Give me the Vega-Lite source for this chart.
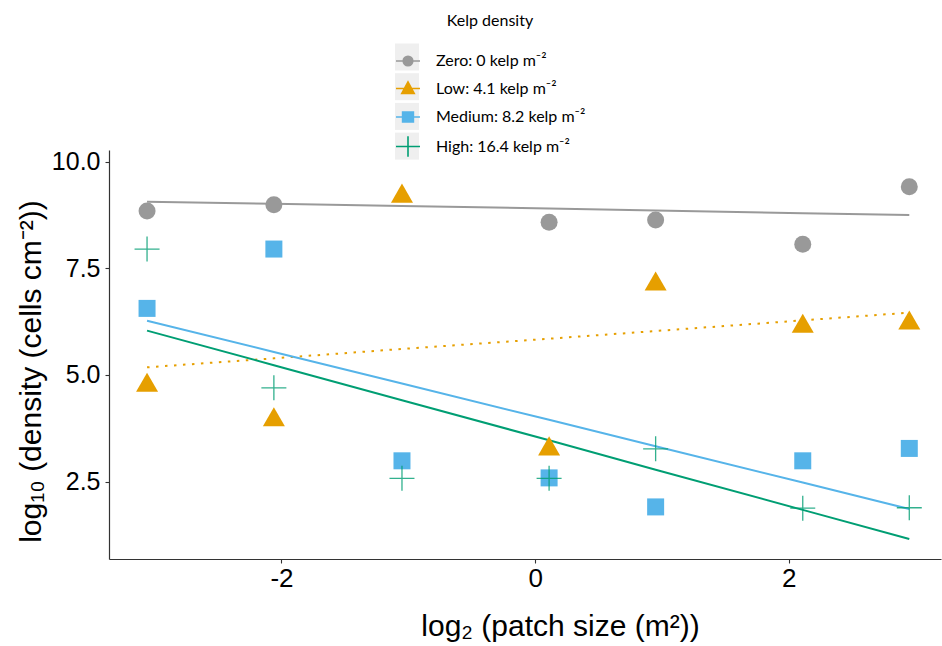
{
  "$schema": "https://vega.github.io/schema/vega-lite/v6.json",
  "width": 832,
  "height": 409,
  "autosize": {"type": "none"},
  "padding": {"left": 109, "top": 150, "right": 1, "bottom": 87},
  "background": "white",
  "config": {"view": {"stroke": null}, "font": "Liberation Sans"},
  "datasets": {
    "pts": [
      {"x": -3.06, "y": 8.84, "group": "Zero: 0 kelp m⁻²"},
      {"x": -2.06, "y": 8.99, "group": "Zero: 0 kelp m⁻²"},
      {"x": 0.11, "y": 8.58, "group": "Zero: 0 kelp m⁻²"},
      {"x": 0.95, "y": 8.63, "group": "Zero: 0 kelp m⁻²"},
      {"x": 2.11, "y": 8.06, "group": "Zero: 0 kelp m⁻²"},
      {"x": 2.95, "y": 9.41, "group": "Zero: 0 kelp m⁻²"},
      {"x": -3.06, "y": 4.83, "group": "Low: 4.1 kelp m⁻²"},
      {"x": -2.06, "y": 4.02, "group": "Low: 4.1 kelp m⁻²"},
      {"x": -1.05, "y": 9.26, "group": "Low: 4.1 kelp m⁻²"},
      {"x": 0.11, "y": 3.34, "group": "Low: 4.1 kelp m⁻²"},
      {"x": 0.95, "y": 7.2, "group": "Low: 4.1 kelp m⁻²"},
      {"x": 2.11, "y": 6.21, "group": "Low: 4.1 kelp m⁻²"},
      {"x": 2.95, "y": 6.29, "group": "Low: 4.1 kelp m⁻²"},
      {"x": -3.06, "y": 6.56, "group": "Medium: 8.2 kelp m⁻²"},
      {"x": -2.06, "y": 7.95, "group": "Medium: 8.2 kelp m⁻²"},
      {"x": -1.05, "y": 2.99, "group": "Medium: 8.2 kelp m⁻²"},
      {"x": 0.11, "y": 2.59, "group": "Medium: 8.2 kelp m⁻²"},
      {"x": 0.95, "y": 1.91, "group": "Medium: 8.2 kelp m⁻²"},
      {"x": 2.11, "y": 2.99, "group": "Medium: 8.2 kelp m⁻²"},
      {"x": 2.95, "y": 3.28, "group": "Medium: 8.2 kelp m⁻²"},
      {"x": -3.06, "y": 7.95, "group": "High: 16.4 kelp m⁻²"},
      {"x": -2.06, "y": 4.7, "group": "High: 16.4 kelp m⁻²"},
      {"x": -1.05, "y": 2.58, "group": "High: 16.4 kelp m⁻²"},
      {"x": 0.11, "y": 2.58, "group": "High: 16.4 kelp m⁻²"},
      {"x": 0.95, "y": 3.27, "group": "High: 16.4 kelp m⁻²"},
      {"x": 2.11, "y": 1.88, "group": "High: 16.4 kelp m⁻²"},
      {"x": 2.95, "y": 1.89, "group": "High: 16.4 kelp m⁻²"}
    ],
    "fits": [
      {"x": -3.06, "y": 9.06, "group": "Zero: 0 kelp m⁻²"},
      {"x": -2.06, "y": 9.01, "group": "Zero: 0 kelp m⁻²"},
      {"x": -1.05, "y": 8.96, "group": "Zero: 0 kelp m⁻²"},
      {"x": 0.11, "y": 8.9, "group": "Zero: 0 kelp m⁻²"},
      {"x": 0.95, "y": 8.85, "group": "Zero: 0 kelp m⁻²"},
      {"x": 2.11, "y": 8.79, "group": "Zero: 0 kelp m⁻²"},
      {"x": 2.95, "y": 8.75, "group": "Zero: 0 kelp m⁻²"},
      {"x": -3.06, "y": 5.18, "group": "Low: 4.1 kelp m⁻²"},
      {"x": -2.06, "y": 5.39, "group": "Low: 4.1 kelp m⁻²"},
      {"x": -1.05, "y": 5.61, "group": "Low: 4.1 kelp m⁻²"},
      {"x": 0.11, "y": 5.85, "group": "Low: 4.1 kelp m⁻²"},
      {"x": 0.95, "y": 6.03, "group": "Low: 4.1 kelp m⁻²"},
      {"x": 2.11, "y": 6.28, "group": "Low: 4.1 kelp m⁻²"},
      {"x": 2.95, "y": 6.46, "group": "Low: 4.1 kelp m⁻²"},
      {"x": -3.06, "y": 6.27, "group": "Medium: 8.2 kelp m⁻²"},
      {"x": -2.06, "y": 5.54, "group": "Medium: 8.2 kelp m⁻²"},
      {"x": -1.05, "y": 4.8, "group": "Medium: 8.2 kelp m⁻²"},
      {"x": 0.11, "y": 3.95, "group": "Medium: 8.2 kelp m⁻²"},
      {"x": 0.95, "y": 3.33, "group": "Medium: 8.2 kelp m⁻²"},
      {"x": 2.11, "y": 2.48, "group": "Medium: 8.2 kelp m⁻²"},
      {"x": 2.95, "y": 1.86, "group": "Medium: 8.2 kelp m⁻²"},
      {"x": -3.06, "y": 6.04, "group": "High: 16.4 kelp m⁻²"},
      {"x": -2.06, "y": 5.23, "group": "High: 16.4 kelp m⁻²"},
      {"x": -1.05, "y": 4.41, "group": "High: 16.4 kelp m⁻²"},
      {"x": 0.11, "y": 3.47, "group": "High: 16.4 kelp m⁻²"},
      {"x": 0.95, "y": 2.78, "group": "High: 16.4 kelp m⁻²"},
      {"x": 2.11, "y": 1.84, "group": "High: 16.4 kelp m⁻²"},
      {"x": 2.95, "y": 1.16, "group": "High: 16.4 kelp m⁻²"}
    ]
  },
  "layer": [
    {
      "data": {"name": "fits"},
      "transform": [{"filter": {"field": "group", "equal": "Zero: 0 kelp m⁻²"}}],
      "mark": {"type": "line", "strokeWidth": 2, "strokeCap": "butt", "stroke": "#999999"},
      "encoding": {
        "x": {
          "field": "x", "type": "quantitative",
          "scale": {"domain": [-3.36, 3.2], "nice": false, "zero": false},
          "axis": {
            "values": [-2, 0, 2], "title": "log₂ (patch size (m²))",
            "labelExpr": "datum.value < 0 ? '-' + format(-datum.value, 'd') : format(datum.value, 'd')",
            "titleFont": "Liberation Sans", "titleFontSize": 30, "titleFontWeight": "normal", "titleColor": "black",
            "titleX": 451, "titleY": 52, "titleBaseline": "top",
            "labelFont": "Liberation Sans", "labelFontSize": 26, "labelColor": "black", "labelPadding": 2,
            "domainColor": "#333333", "domainWidth": 1.2, "tickColor": "#333333", "tickSize": 4, "tickWidth": 1.1, "grid": false
          }
        },
        "y": {
          "field": "y", "type": "quantitative",
          "scale": {"domain": [0.69, 10.27], "nice": false, "zero": false},
          "axis": {
            "values": [2.5, 5, 7.5, 10], "format": ".1f", "title": "log₁₀ (density (cells cm⁻²))",
            "titleFont": "Liberation Sans", "titleFontSize": 30, "titleFontWeight": "normal", "titleColor": "black",
            "titleX": -63, "titleY": 221, "titleBaseline": "bottom",
            "labelFont": "Liberation Sans", "labelFontSize": 25, "labelColor": "black", "labelPadding": 5,
            "domainColor": "#333333", "domainWidth": 1.2, "tickColor": "#333333", "tickSize": 4, "tickWidth": 1.1, "grid": false
          }
        }
      }
    },
    {
      "data": {"name": "fits"},
      "transform": [{"filter": {"field": "group", "equal": "Low: 4.1 kelp m⁻²"}}],
      "mark": {"type": "line", "strokeWidth": 2, "strokeCap": "butt", "stroke": "#E69F00", "strokeDash": [2.5, 6.5]},
      "encoding": {"x": {"field": "x", "type": "quantitative"}, "y": {"field": "y", "type": "quantitative"}}
    },
    {
      "data": {"name": "fits"},
      "transform": [{"filter": {"field": "group", "equal": "Medium: 8.2 kelp m⁻²"}}],
      "mark": {"type": "line", "strokeWidth": 2, "strokeCap": "butt", "stroke": "#56B4E9"},
      "encoding": {"x": {"field": "x", "type": "quantitative"}, "y": {"field": "y", "type": "quantitative"}}
    },
    {
      "data": {"name": "fits"},
      "transform": [{"filter": {"field": "group", "equal": "High: 16.4 kelp m⁻²"}}],
      "mark": {"type": "line", "strokeWidth": 2, "strokeCap": "butt", "stroke": "#009E73"},
      "encoding": {"x": {"field": "x", "type": "quantitative"}, "y": {"field": "y", "type": "quantitative"}}
    },
    {
      "data": {"name": "pts"},
      "transform": [{"filter": {"field": "group", "equal": "Zero: 0 kelp m⁻²"}}],
      "mark": {"type": "point", "filled": true, "opacity": 1, "shape": "circle", "size": 289, "color": "#999999"},
      "encoding": {"x": {"field": "x", "type": "quantitative"}, "y": {"field": "y", "type": "quantitative"}}
    },
    {
      "data": {"name": "pts"},
      "transform": [{"filter": {"field": "group", "equal": "Low: 4.1 kelp m⁻²"}}],
      "mark": {"type": "point", "filled": true, "opacity": 1, "shape": "triangle-up", "size": 484, "color": "#E69F00"},
      "encoding": {"x": {"field": "x", "type": "quantitative"}, "y": {"field": "y", "type": "quantitative"}}
    },
    {
      "data": {"name": "pts"},
      "transform": [{"filter": {"field": "group", "equal": "Medium: 8.2 kelp m⁻²"}}],
      "mark": {"type": "point", "filled": true, "opacity": 1, "shape": "square", "size": 289, "color": "#56B4E9"},
      "encoding": {"x": {"field": "x", "type": "quantitative"}, "y": {"field": "y", "type": "quantitative"}}
    },
    {
      "data": {"name": "pts"},
      "transform": [{"filter": {"field": "group", "equal": "High: 16.4 kelp m⁻²"}}],
      "mark": {"type": "point", "filled": false, "shape": "M-1,0H1M0,-1V1", "size": 625, "stroke": "#009E73", "strokeWidth": 1.3, "opacity": 0.8},
      "encoding": {"x": {"field": "x", "type": "quantitative"}, "y": {"field": "y", "type": "quantitative"}}
    },
    {
      "data": {"name": "pts"},
      "transform": [{"filter": "false"}],
      "mark": {"type": "point", "filled": true, "opacity": 1},
      "encoding": {
        "x": {"field": "x", "type": "quantitative"},
        "y": {"field": "y", "type": "quantitative"},
        "color": {
          "field": "group", "type": "nominal",
          "scale": {"domain": ["High: 16.4 kelp m⁻²", "Medium: 8.2 kelp m⁻²", "Low: 4.1 kelp m⁻²", "Zero: 0 kelp m⁻²"], "range": ["#EFEFEF", "#EFEFEF", "#EFEFEF", "#EFEFEF"]},
          "legend": {
            "title": null, "orient": "none", "legendX": 286, "legendY": -105,
            "symbolType": "M-1,-1.125H1V1.125H-1Z", "symbolSize": 576, "symbolStrokeWidth": 0, "symbolOpacity": 1,
            "labelExpr": "''", "labelOffset": 0, "labelFontSize": 16, "labelFont": "Lato", "rowPadding": 1.7, "padding": 0
          }
        }
      }
    },
    {
      "data": {"name": "pts"},
      "transform": [{"filter": "false"}],
      "mark": {"type": "point", "filled": true, "opacity": 1, "strokeWidth": 1.5},
      "encoding": {
        "x": {"field": "x", "type": "quantitative"},
        "y": {"field": "y", "type": "quantitative"},
        "fill": {
          "field": "group", "type": "nominal", "title": "Kelp density",
          "scale": {"domain": ["Zero: 0 kelp m⁻²", "Low: 4.1 kelp m⁻²", "Medium: 8.2 kelp m⁻²", "High: 16.4 kelp m⁻²"], "range": ["#999999", "#E69F00", "#56B4E9", "#009E73"]},
          "legend": {
            "title": "Kelp density", "orient": "none", "legendX": 286, "legendY": -137,
            "titleAnchor": "middle", "titleFont": "Lato", "titleFontSize": 16, "titleFontWeight": "normal", "titleColor": "black", "titlePadding": 19,
            "labelFont": "Lato", "labelFontSize": 16, "labelColor": "black", "labelOffset": 15,
            "symbolSize": 576, "symbolStrokeWidth": 1.6, "symbolOpacity": 1, "rowPadding": 6.5, "padding": 0
          }
        },
        "stroke": {
          "field": "group", "type": "nominal", "title": "Kelp density",
          "scale": {"domain": ["Zero: 0 kelp m⁻²", "Low: 4.1 kelp m⁻²", "Medium: 8.2 kelp m⁻²", "High: 16.4 kelp m⁻²"], "range": ["#999999", "#E69F00", "#56B4E9", "#009E73"]}
        },
        "shape": {
          "field": "group", "type": "nominal", "title": "Kelp density",
          "scale": {"domain": ["Zero: 0 kelp m⁻²", "Low: 4.1 kelp m⁻²", "Medium: 8.2 kelp m⁻²", "High: 16.4 kelp m⁻²"], "range": ["M-1,0H1M0.4,0A0.4,0.4,0,1,1,-0.4,0A0.4,0.4,0,1,1,0.4,0Z", "M-1,0H1M0,-0.55L-0.52,0.42L0.52,0.42Z", "M-1,0H1M-0.45,-0.42H0.45V0.42H-0.45Z", "M-1,0H1M0,-0.85V0.85"]}
        }
      }
    }
  ]
}
